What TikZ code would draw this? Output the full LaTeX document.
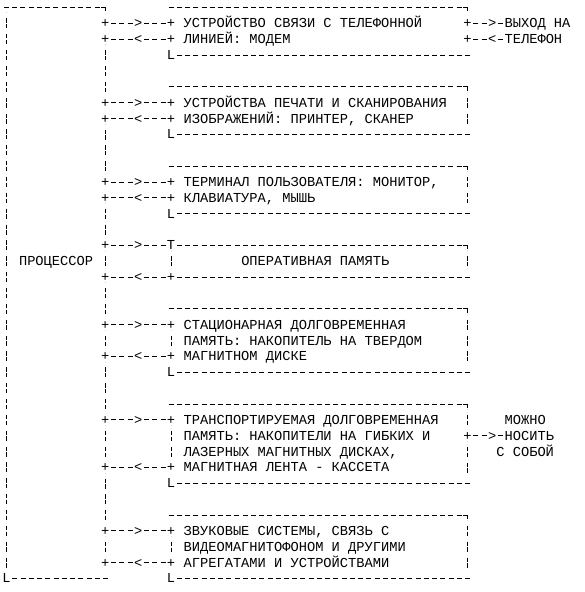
\documentclass[tikz,border=0pt]{standalone}
\usepackage{fontspec}
\newfontfamily\monofnt{Liberation Mono}
\usepackage{tikz}

\tikzset{
  junc/.style={font=\monofnt\fontsize{13.71pt}{15.86pt}\selectfont, inner sep=0pt, text height=9.5pt, text depth=0.5pt},
  arr/.style={junc, fill=white},
  txt/.style={junc, anchor=west},
  hline/.style={line width=0.8pt, dash pattern=on 5pt off 3.23pt, dash phase=6.615pt},
  vline/.style={line width=0.8pt, dash pattern=on 4.25pt off 1.5pt on 4.25pt off 5.86pt, dash phase=10pt},
  corner/.style={line width=0.8pt},
}

\begin{document}
\begin{tikzpicture}[x=8.23pt, y=-15.86pt]
\useasboundingbox (-0.79,-0.473) rectangle (70.17,36.854);

% processor frame
\coordinate (ptl) at (-0.5,0);
\coordinate (ptr) at (11.5,0);
\coordinate (pl) at (0,0);
\node[junc] (pbl) at (0,36) {L};
\coordinate (pbr) at (12.5,36);
\draw[hline] (ptl) -- (ptr);
\draw[corner] (ptr) -- (12,0) -- ++(0,0.25);
\draw[hline] (pbl) -- (pbr);
\draw[vline] ([yshift=-5pt]pl) -- (pbl);
\node[txt] (proc) at (1.5,16) {ПРОЦЕССОР};

% junctions
\foreach \r in {1,2,6,7,11,12,15,17,20,22,26,29,33,35}
  \node[junc] (p\r) at (12,\r) {+};
\foreach \r in {1,2,6,7,11,12,17,20,22,26,29,33,35}
  \node[junc] (b\r) at (20,\r) {+};
\node[junc] (b15) at (20,15) {T};
\node[junc] (o1) at (56,1) {+};
\node[junc] (o2) at (56,2) {+};
\node[junc] (o27) at (56,27) {+};

\foreach \a/\b in {2/6,7/11,12/15,15/17,17/20,20/22,22/26,26/29,29/33,33/35}
  \draw[vline] (p\a) -- (p\b);
\foreach \a/\b in {15/17,20/22,26/29,33/35}
  \draw[vline] (b\a) -- (b\b);

% device frames
\foreach \n/\t/\b in {1/0/3,2/5/8,3/10/13,5/19/23,6/25/30,7/32/36}{
  \coordinate (tl\n) at (19.5,\t);
  \coordinate (tr\n) at (55.5,\t);
  \coordinate (ne\n) at (56,\t);
  \coordinate (se\n) at (56,\b);
  \node[junc] (bl\n) at (20,\b) {L};
  \draw[hline] (tl\n) -- (tr\n);
  \draw[corner] (tr\n) -- (ne\n) -- ++(0,0.25);
  \draw[hline] (bl\n) -- ([xshift=4.115pt]se\n);
}
% memory frame
\coordinate (tr4) at (55.5,15);
\coordinate (ne4) at (56,15);
\coordinate (se4) at (56,17);
\draw[hline] (b15) -- (tr4);
\draw[corner] (tr4) -- (ne4) -- ++(0,0.25);
\draw[hline] (b17) -- ([xshift=4.115pt]se4);

\foreach \n in {2,3,4,5,7}
  \draw[vline] ([yshift=-5pt]ne\n) -- ([yshift=5pt]se\n);
\draw[vline] ([yshift=-5pt]ne6) -- (o27);
\draw[vline] (o27) -- ([yshift=5pt]se6);

% links
\foreach \r in {1,6,11,15,20,26,33}
  \draw[hline] (p\r) -- node[arr]{>} (b\r);
\foreach \r in {2,7,12,17,22,29,35}
  \draw[hline] (p\r) -- node[arr]{<} (b\r);

% texts
\node[txt] (t1) at (21.5,1) {УСТРОЙСТВО СВЯЗИ С ТЕЛЕФОННОЙ};
\node[txt] (t2) at (21.5,2) {ЛИНИЕЙ: МОДЕМ};
\node[txt] (t6) at (21.5,6) {УСТРОЙСТВА ПЕЧАТИ И СКАНИРОВАНИЯ};
\node[txt] (t7) at (21.5,7) {ИЗОБРАЖЕНИЙ: ПРИНТЕР, СКАНЕР};
\node[txt] (t11) at (21.5,11) {ТЕРМИНАЛ ПОЛЬЗОВАТЕЛЯ: МОНИТОР,};
\node[txt] (t12) at (21.5,12) {КЛАВИАТУРА, МЫШЬ};
\node[txt] (t16) at (28.5,16) {ОПЕРАТИВНАЯ ПАМЯТЬ};
\node[txt] (t20) at (21.5,20) {СТАЦИОНАРНАЯ ДОЛГОВРЕМЕННАЯ};
\node[txt] (t21) at (21.5,21) {ПАМЯТЬ: НАКОПИТЕЛЬ НА ТВЕРДОМ};
\node[txt] (t22) at (21.5,22) {МАГНИТНОМ ДИСКЕ};
\node[txt] (t26) at (21.5,26) {ТРАНСПОРТИРУЕМАЯ ДОЛГОВРЕМЕННАЯ};
\node[txt] (t27) at (21.5,27) {ПАМЯТЬ: НАКОПИТЕЛИ НА ГИБКИХ И};
\node[txt] (t28) at (21.5,28) {ЛАЗЕРНЫХ МАГНИТНЫХ ДИСКАХ,};
\node[txt] (t29) at (21.5,29) {МАГНИТНАЯ ЛЕНТА - КАССЕТА};
\node[txt] (t33) at (21.5,33) {ЗВУКОВЫЕ СИСТЕМЫ, СВЯЗЬ С};
\node[txt] (t34) at (21.5,34) {ВИДЕОМАГНИТОФОНОМ И ДРУГИМИ};
\node[txt] (t35) at (21.5,35) {АГРЕГАТАМИ И УСТРОЙСТВАМИ};

% outside
\node[txt] (out1) at (60.5,1) {ВЫХОД НА};
\node[txt] (in2) at (60.5,2) {ТЕЛЕФОН};
\node[txt] (can) at (60.5,26) {МОЖНО};
\node[txt] (carry) at (60.5,27) {НОСИТЬ};
\node[txt] (with) at (59.5,28) {С СОБОЙ};
\draw[hline] (o1) -- node[arr,pos=0.625]{>} (out1);
\draw[hline] (o2) -- node[arr,pos=0.625]{<} (in2);
\draw[hline] (o27) -- node[arr,pos=0.625]{>} (carry);

\end{tikzpicture}
\end{document}
